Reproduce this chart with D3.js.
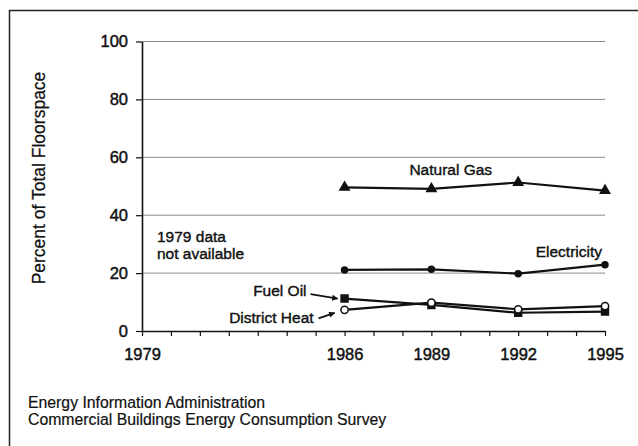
<!DOCTYPE html>
<html>
<head>
<meta charset="utf-8">
<script src="https://cdn.jsdelivr.net/npm/d3@7"></script>
<style>
  body { margin: 0; background: #fff; }
  svg { display: block; font-family: "Liberation Sans", Arial, sans-serif; }
</style>
</head>
<body>
<svg id="chart" width="638" height="446"></svg>
<script>
const years = [1986, 1989, 1992, 1995];
const naturalGas = [49.6, 49.1, 51.3, 48.5];
const electricity = [21.1, 21.3, 19.8, 22.9];
const fuelOil = [11.2, 9.0, 6.3, 6.7];
const districtHeat = [7.3, 9.8, 7.5, 8.6];
const yTicks = [0, 20, 40, 60, 80, 100];
const xLabels = [1979, 1986, 1989, 1992, 1995];

const svg = d3.select("#chart");
const ink = "#111";

// scan frame (top + left edge only)
svg.append("path").attr("d", "M9.5,446V10.5H638").attr("fill", "none").attr("stroke", "#222").attr("stroke-width", 1.5);

const x = d3.scaleLinear().domain([1979, 1995]).range([142, 605]);
const y = d3.scaleLinear().domain([0, 100]).range([331, 41.5]);

// gridlines
svg.append("g").selectAll("line")
  .data(yTicks.filter((d) => d > 0))
  .enter().append("line")
  .attr("x1", x(1979)).attr("x2", x(1995))
  .attr("y1", (d) => y(d)).attr("y2", (d) => y(d))
  .attr("stroke", "#8a8a8a").attr("stroke-width", 1);

const yAxis = d3.axisLeft(y).tickValues(yTicks).tickSize(6).tickSizeOuter(0).tickPadding(8);
const gy = svg.append("g").attr("transform", `translate(${x(1979)},0)`).call(yAxis);
const xAxis = d3.axisBottom(x).tickValues(d3.range(1979, 1996)).tickSize(5).tickSizeOuter(0).tickPadding(12)
  .tickFormat((d) => (xLabels.includes(d) ? d : ""));
const gx = svg.append("g").attr("transform", `translate(0,${y(0)})`).call(xAxis);
[gx, gy].forEach((g) => {
  g.select(".domain").attr("stroke", ink).attr("stroke-width", 1.6);
  g.selectAll(".tick line").attr("stroke", ink).attr("stroke-width", 1.2);
  g.selectAll(".tick text").attr("fill", ink).style("font-size", "16.5px")
    .attr("stroke", ink).attr("stroke-width", 0.45);
});

// y title
svg.append("text")
  .attr("transform", "translate(45,178) rotate(-90)")
  .attr("text-anchor", "middle")
  .style("font-size", "17.5px").attr("fill", ink).attr("stroke", ink).attr("stroke-width", 0.25)
  .text("Percent of Total Floorspace");

const series = [
  { name: "Natural Gas", values: naturalGas, symbol: d3.symbolTriangle, size: 38, fill: ink },
  { name: "Electricity", values: electricity, symbol: d3.symbolCircle, size: 28, fill: ink },
  { name: "Fuel Oil", values: fuelOil, symbol: d3.symbolSquare, size: 48, fill: ink },
  { name: "District Heat", values: districtHeat, symbol: d3.symbolCircle, size: 42, fill: "#fff" },
];

const line = d3.line().x((d, i) => x(years[i])).y((d) => y(d));

series.forEach((s) => {
  svg.append("path").datum(s.values).attr("d", line)
    .attr("fill", "none").attr("stroke", ink).attr("stroke-width", 2.2);
});
series.forEach((s) => {
  svg.append("g").selectAll("path")
    .data(s.values).enter().append("path")
    .attr("transform", (d, i) => `translate(${x(years[i])},${y(d)})`)
    .attr("d", d3.symbol().type(s.symbol).size(s.size))
    .attr("fill", s.fill).attr("stroke", ink).attr("stroke-width", 1.5);
});

// annotations
const note = (tx, ty, str, anchor) => svg.append("text")
  .attr("x", tx).attr("y", ty).attr("text-anchor", anchor || "start")
  .style("font-size", "15.5px").attr("fill", ink).attr("stroke", ink).attr("stroke-width", 0.4)
  .text(str);
note((x(1989) + x(1992)) / 2 - 24, y(naturalGas[1]) - 14, "Natural Gas", "middle");
note(x(1995) - 3, y(electricity[3]) - 8, "Electricity", "end");
note(x(1979) + 15, 242, "1979 data");
note(x(1979) + 15, 259, "not available");
note(x(1986) - 38, y(fuelOil[0]) - 2.5, "Fuel Oil", "end");
note(x(1986) - 31, y(districtHeat[0]) + 13.5, "District Heat", "end");

svg.append("defs").append("marker")
  .attr("id", "arrow").attr("viewBox", "0 0 10 10").attr("refX", 9).attr("refY", 5)
  .attr("markerWidth", 7).attr("markerHeight", 6).attr("orient", "auto")
  .attr("markerUnits", "userSpaceOnUse")
  .append("path").attr("d", "M0,0L10,5L0,10z").attr("fill", ink);

const arrow = (x1, y1, x2, y2) => svg.append("line")
  .attr("x1", x1).attr("y1", y1).attr("x2", x2).attr("y2", y2)
  .attr("stroke", ink).attr("stroke-width", 1.8).attr("marker-end", "url(#arrow)");
arrow(x(1986) - 34, y(fuelOil[0]) - 4.5, x(1986) - 7, y(fuelOil[0]));
arrow(x(1986) - 26, y(districtHeat[0]) + 8.5, x(1986) - 10, y(districtHeat[0]) + 3);

// source
const source = svg.append("g").style("font-size", "15.8px").attr("fill", ink)
  .attr("stroke", ink).attr("stroke-width", 0.2);
source.append("text").attr("x", 28).attr("y", 408).text("Energy Information Administration");
source.append("text").attr("x", 28).attr("y", 425).text("Commercial Buildings Energy Consumption Survey");
</script>
</body>
</html>
